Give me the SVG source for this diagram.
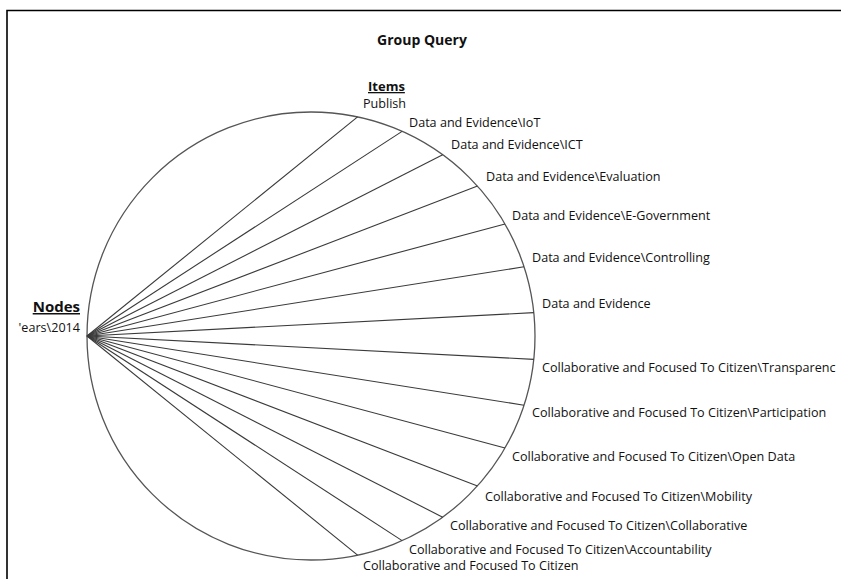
<svg xmlns="http://www.w3.org/2000/svg" width="841" height="579" viewBox="0 0 841 579">
<style>
.lbl{font-family:"Open Sans","Noto Sans","Liberation Sans",sans-serif;font-size:12.6px;fill:#111}
.hdr{font-family:"Open Sans","Noto Sans","Liberation Sans",sans-serif;font-size:13px;font-weight:bold;fill:#111;text-decoration:underline}
.ttl{font-family:"Open Sans","Noto Sans","Liberation Sans",sans-serif;font-size:14px;font-weight:bold;fill:#111}
.edge{stroke:#3a3a3a;stroke-width:1.1;fill:none}
</style>
<rect x="0" y="0" width="841" height="579" fill="#fff"/>
<path d="M7,579 V10.5 H841" stroke="#000" stroke-width="1.6" fill="none"/>
<text class="ttl" x="422" y="45" text-anchor="middle">Group Query</text>
<circle cx="311" cy="336" r="224" fill="none" stroke="#555" stroke-width="1.3"/>
<g id="connectors">
<line class="edge" x1="87" y1="336" x2="357.6" y2="116.9"/>
<line class="edge" x1="87" y1="336" x2="402.1" y2="131.4"/>
<line class="edge" x1="87" y1="336" x2="442.7" y2="154.8"/>
<line class="edge" x1="87" y1="336" x2="477.5" y2="186.1"/>
<line class="edge" x1="87" y1="336" x2="505.0" y2="224.0"/>
<line class="edge" x1="87" y1="336" x2="524.0" y2="266.8"/>
<line class="edge" x1="87" y1="336" x2="533.8" y2="312.6"/>
<line class="edge" x1="87" y1="336" x2="533.8" y2="359.4"/>
<line class="edge" x1="87" y1="336" x2="524.0" y2="405.2"/>
<line class="edge" x1="87" y1="336" x2="505.0" y2="448.0"/>
<line class="edge" x1="87" y1="336" x2="477.5" y2="485.9"/>
<line class="edge" x1="87" y1="336" x2="442.7" y2="517.2"/>
<line class="edge" x1="87" y1="336" x2="402.1" y2="540.6"/>
<line class="edge" x1="87" y1="336" x2="357.6" y2="555.1"/>
</g>
<g id="node-hub">
<text class="hdr" x="80" y="312" text-anchor="end" style="font-size:15px">Nodes</text>
<text class="lbl" x="80" y="332" text-anchor="end">'ears\2014</text>
</g>
<g id="items-header">
<text class="hdr" x="368" y="91">Items</text>
</g>
<g id="item-1"><text class="lbl" x="363" y="108">Publish</text></g>
<g id="item-2"><text class="lbl" x="409" y="127">Data and Evidence\IoT</text></g>
<g id="item-3"><text class="lbl" x="451" y="149">Data and Evidence\ICT</text></g>
<g id="item-4"><text class="lbl" x="486" y="181">Data and Evidence\Evaluation</text></g>
<g id="item-5"><text class="lbl" x="512" y="220">Data and Evidence\E-Government</text></g>
<g id="item-6"><text class="lbl" x="532" y="262">Data and Evidence\Controlling</text></g>
<g id="item-7"><text class="lbl" x="542" y="308">Data and Evidence</text></g>
<g id="item-8"><text class="lbl" x="542" y="372">Collaborative and Focused To Citizen\Transparenc</text></g>
<g id="item-9"><text class="lbl" x="532" y="417">Collaborative and Focused To Citizen\Participation</text></g>
<g id="item-10"><text class="lbl" x="512" y="461">Collaborative and Focused To Citizen\Open Data</text></g>
<g id="item-11"><text class="lbl" x="485" y="501">Collaborative and Focused To Citizen\Mobility</text></g>
<g id="item-12"><text class="lbl" x="450" y="530">Collaborative and Focused To Citizen\Collaborative</text></g>
<g id="item-13"><text class="lbl" x="409" y="554">Collaborative and Focused To Citizen\Accountability</text></g>
<g id="item-14"><text class="lbl" x="363" y="570">Collaborative and Focused To Citizen</text></g>
</svg>
